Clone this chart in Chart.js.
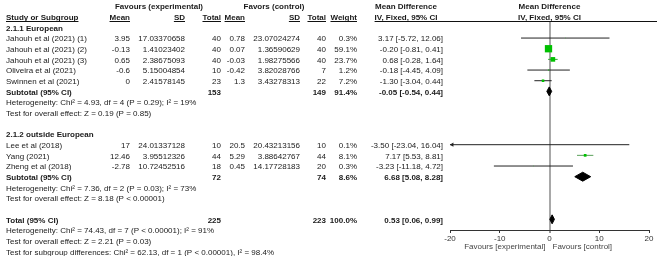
<!DOCTYPE html>
<html><head><meta charset="utf-8">
<script src="https://cdn.jsdelivr.net/npm/chart.js@4.4.1/dist/chart.umd.min.js"></script>
<style>html,body{margin:0;padding:0;background:#fff;}canvas{display:block;}</style>
</head><body>
<canvas id="c" width="657" height="256" style="width:657px;height:256px"></canvas>
<script>
// ---------- DATA ----------
const groupNames = ["2.1.1 European", "2.1.2 outside European"];
const studyNames = ["Jahouh et al (2021) (1)", "Jahouh et al (2021) (2)", "Jahouh et al (2021) (3)",
  "Oliveira et al (2021)", "Swinnen et al (2021)", "Lee et al (2018)", "Yang (2021)", "Zheng et al (2018)"];
const studyGroup = [0, 0, 0, 0, 0, 1, 1, 1];
const expMean = [3.95, -0.13, 0.65, -0.6, 0, 17, 12.46, -2.78];
const expSD = [17.03370658, 1.41023402, 2.38675093, 5.15004854, 2.41578145, 24.01337128, 3.95512326, 10.72452516];
const expTotal = [40, 40, 40, 10, 23, 10, 44, 18];
const ctrlMean = [0.78, 0.07, -0.03, -0.42, 1.3, 20.5, 5.29, 0.45];
const ctrlSD = [23.07024274, 1.36590629, 1.98275566, 3.82028766, 3.43278313, 20.43213156, 3.88642767, 14.17728183];
const ctrlTotal = [40, 40, 40, 7, 22, 10, 44, 20];
const weights = [0.3, 59.1, 23.7, 1.2, 7.2, 0.1, 8.1, 0.3];
const md = [3.17, -0.20, 0.68, -0.18, -1.30, -3.50, 7.17, -3.23];
const ciLow = [-5.72, -0.81, -0.28, -4.45, -3.04, -23.04, 5.53, -11.18];
const ciHigh = [12.06, 0.41, 1.64, 4.09, 0.44, 16.04, 8.81, 4.72];

const subExpTotal = [153, 72];
const subCtrlTotal = [149, 74];
const subWeight = [91.4, 8.6];
const subMD = [-0.05, 6.68];
const subLow = [-0.54, 5.08];
const subHigh = [0.44, 8.28];
const subHeterogeneity = ["Heterogeneity: Chi\u00B2 = 4.93, df = 4 (P = 0.29); I\u00B2 = 19%",
  "Heterogeneity: Chi\u00B2 = 7.36, df = 2 (P = 0.03); I\u00B2 = 73%"];
const subOverall = ["Test for overall effect: Z = 0.19 (P = 0.85)",
  "Test for overall effect: Z = 8.18 (P < 0.00001)"];

const totalExp = 225, totalCtrl = 223, totalWeight = 100.0;
const totalMD = 0.53, totalLow = 0.06, totalHigh = 0.99;
const totalTexts = ["Heterogeneity: Chi\u00B2 = 74.43, df = 7 (P < 0.00001); I\u00B2 = 91%",
  "Test for overall effect: Z = 2.21 (P = 0.03)",
  "Test for subgroup differences: Chi\u00B2 = 62.13, df = 1 (P < 0.00001), I\u00B2 = 98.4%"];

const xTicks = [-20, -10, 0, 10, 20];
const axisLabels = ["Favours [experimental]", "Favours [control]"];

// ---------- STYLE ----------
const X_MIN = -20, X_MAX = 20;
const FONT = '"Liberation Sans", Arial, Helvetica, sans-serif';
const FONT_SIZE = 8;
const TEXT_COLOR = '#1a1a1a';
const SQUARE_COLOR = '#00c000';
const LINE_COLOR = '#222222';
const ciColor = ['#222222', '#222222', '#33a833', '#222222', '#222222', '#222222', '#5aa05a', '#222222'];
const ZERO_COLOR = '#a8a8a8';
const SQUARE_SCALE = 0.95;
const DIAMOND_H = 0.42;
const TEXT_DY = 1;
const COL = { name: 6, expMean: 130, expSD: 185, expTotal: 221, ctrlMean: 245, ctrlSD: 300,
  ctrlTotal: 326, weight: 357, mdText: 443, mdHead: 406, expHead: 159, ctrlHead: 274, forestHead: 549.5 };

// ---------- ROW LAYOUT ----------
let r = 2;
const groupRow = [], studyRow = [], subRow = [], hetRow = [], effRow = [];
for (let g = 0; g < groupNames.length; g++) {
  groupRow[g] = r++;
  studyNames.forEach((n, i) => { if (studyGroup[i] === g) studyRow[i] = r++; });
  subRow[g] = r++; hetRow[g] = r++; effRow[g] = r++; r++;
}
const totalRow = r++;
const totalTextRows = [r++, r++, r++];

const fmt2 = v => v.toFixed(2);
const ciText = (m, lo, hi) => fmt2(m) + ' [' + fmt2(lo) + ', ' + fmt2(hi) + ']';

// ---------- DATASETS ----------
const datasets = [];
studyNames.forEach((n, i) => {
  datasets.push({
    data: [{ x: ciLow[i], y: studyRow[i] }, { x: ciHigh[i], y: studyRow[i] }],
    showLine: true, borderColor: ciColor[i], borderWidth: 1, pointRadius: 0, fill: false, order: 3
  });
});
datasets.push({
  data: md.map((m, i) => ({ x: m, y: studyRow[i] })),
  pointStyle: 'rect', pointRadius: weights.map(w => SQUARE_SCALE * Math.sqrt(w) / Math.SQRT2),
  pointBackgroundColor: SQUARE_COLOR, backgroundColor: SQUARE_COLOR, pointBorderWidth: 0, borderWidth: 0,
  showLine: false, order: 1
});
const arrowPts = [], arrowRot = [];
studyNames.forEach((n, i) => {
  if (ciLow[i] < X_MIN) { arrowPts.push({ x: X_MIN + 0.45, y: studyRow[i] }); arrowRot.push(-90); }
  if (ciHigh[i] > X_MAX) { arrowPts.push({ x: X_MAX - 0.45, y: studyRow[i] }); arrowRot.push(90); }
});
datasets.push({
  data: arrowPts, pointStyle: 'triangle', pointRotation: arrowRot, pointRadius: 2.4,
  pointBackgroundColor: LINE_COLOR, backgroundColor: LINE_COLOR, pointBorderWidth: 0, borderWidth: 0,
  showLine: false, clip: false, order: 1
});
function diamond(m, lo, hi, row) {
  return [{ x: lo, y: row }, { x: m, y: row - DIAMOND_H }, { x: hi, y: row }, { x: m, y: row + DIAMOND_H }, { x: lo, y: row }];
}
const diamonds = subMD.map((m, g) => diamond(m, subLow[g], subHigh[g], subRow[g]));
diamonds.push(diamond(totalMD, totalLow, totalHigh, totalRow));
diamonds.forEach(d => datasets.push({
  data: d, showLine: true, fill: 'shape', backgroundColor: '#000', borderColor: '#000',
  borderWidth: 1, pointRadius: 0, tension: 0, order: 1
}));

// ---------- TEXT PLUGIN ----------
const textPlugin = {
  id: 'forestText',
  afterDraw(chart) {
    const ctx = chart.ctx, ys = chart.scales.y, xs = chart.scales.x;
    const py = row => ys.getPixelForValue(row) + TEXT_DY;
    ctx.save();
    ctx.textBaseline = 'middle';
    function t(str, x, row, align, bold, color) {
      ctx.font = (bold ? 'bold ' : '') + FONT_SIZE + 'px ' + FONT;
      ctx.textAlign = align; ctx.fillStyle = color || TEXT_COLOR;
      ctx.fillText(String(str), x, py(row));
      return ctx.measureText(String(str)).width;
    }
    const lineY = Math.round(chart.chartArea.top) + 0.5;
    function ul(x1, x2) { ctx.beginPath(); ctx.moveTo(x1, lineY); ctx.lineTo(x2, lineY); ctx.strokeStyle = '#111'; ctx.lineWidth = 1; ctx.stroke(); }
    // header row 0
    t('Favours (experimental)', COL.expHead, 0, 'center', true);
    t('Favors (control)', COL.ctrlHead, 0, 'center', true);
    t('Mean Difference', COL.mdHead, 0, 'center', true);
    t('Mean Difference', COL.forestHead, 0, 'center', true);
    // header row 1 with underlines
    const heads = [['Study or Subgroup', COL.name, 'left'], ['Mean', COL.expMean, 'right'], ['SD', COL.expSD, 'right'],
      ['Total', COL.expTotal, 'right'], ['Mean', COL.ctrlMean, 'right'], ['SD', COL.ctrlSD, 'right'],
      ['Total', COL.ctrlTotal, 'right'], ['Weight', COL.weight, 'right']];
    heads.forEach(h => {
      const w = t(h[0], h[1], 1, h[2], true);
      if (h[2] === 'left') ul(h[1], h[1] + w); else ul(h[1] - w, h[1]);
    });
    const wMd = t('IV, Fixed, 95% CI', COL.mdHead, 1, 'center', true);
    t('IV, Fixed, 95% CI', COL.forestHead, 1, 'center', true);
    ul(COL.mdHead - wMd / 2, chart.width);
    // groups
    groupNames.forEach((gn, g) => {
      t(gn, COL.name, groupRow[g], 'left', true);
      t('Subtotal (95% CI)', COL.name, subRow[g], 'left', true);
      t(subExpTotal[g], COL.expTotal, subRow[g], 'right', true);
      t(subCtrlTotal[g], COL.ctrlTotal, subRow[g], 'right', true);
      t(subWeight[g].toFixed(1) + '%', COL.weight, subRow[g], 'right', true);
      t(ciText(subMD[g], subLow[g], subHigh[g]), COL.mdText, subRow[g], 'right', true);
      t(subHeterogeneity[g], COL.name, hetRow[g], 'left', false);
      t(subOverall[g], COL.name, effRow[g], 'left', false);
    });
    studyNames.forEach((n, i) => {
      const row = studyRow[i];
      t(n, COL.name, row, 'left', false);
      t(expMean[i], COL.expMean, row, 'right', false);
      t(expSD[i], COL.expSD, row, 'right', false);
      t(expTotal[i], COL.expTotal, row, 'right', false);
      t(ctrlMean[i], COL.ctrlMean, row, 'right', false);
      t(ctrlSD[i], COL.ctrlSD, row, 'right', false);
      t(ctrlTotal[i], COL.ctrlTotal, row, 'right', false);
      t(weights[i].toFixed(1) + '%', COL.weight, row, 'right', false);
      t(ciText(md[i], ciLow[i], ciHigh[i]), COL.mdText, row, 'right', false);
    });
    t('Total (95% CI)', COL.name, totalRow, 'left', true);
    t(totalExp, COL.expTotal, totalRow, 'right', true);
    t(totalCtrl, COL.ctrlTotal, totalRow, 'right', true);
    t(totalWeight.toFixed(1) + '%', COL.weight, totalRow, 'right', true);
    t(ciText(totalMD, totalLow, totalHigh), COL.mdText, totalRow, 'right', true);
    totalTexts.forEach((s, k) => t(s, COL.name, totalTextRows[k], 'left', false));
    // axis side labels
    ctx.font = FONT_SIZE + 'px ' + FONT; ctx.fillStyle = '#444'; ctx.textBaseline = 'middle';
    const x0 = xs.getPixelForValue(0), yl = chart.chartArea.bottom + 17;
    ctx.textAlign = 'right'; ctx.fillText(axisLabels[0], x0 - 4, yl);
    ctx.textAlign = 'left'; ctx.fillText(axisLabels[1], x0 + 3, yl);
    ctx.restore();
  }
};

new Chart(document.getElementById('c'), {
  type: 'scatter',
  data: { datasets },
  options: {
    responsive: false, animation: false, devicePixelRatio: 1,
    layout: { padding: { left: 450, right: 8, top: 21, bottom: 0 } },
    plugins: { legend: { display: false }, tooltip: { enabled: false } },
    scales: {
      x: {
        type: 'linear', min: X_MIN, max: X_MAX, position: 'bottom',
        afterBuildTicks: s => { s.ticks = xTicks.map(v => ({ value: v })); },
        afterFit: s => { s.height = 26; },
        ticks: { font: { family: FONT, size: FONT_SIZE }, color: '#333', padding: 1, maxRotation: 0, autoSkip: false },
        grid: {
          color: c => (c.tick && c.tick.value === 0) ? ZERO_COLOR : 'rgba(0,0,0,0)',
          lineWidth: c => (c.tick && c.tick.value === 0) ? 2 : 1,
          tickColor: '#333', tickWidth: 1, tickLength: 3, drawTicks: true
        },
        border: { display: true, color: '#333', width: 1 }
      },
      y: { type: 'linear', min: 1.4, max: 21, reverse: true, display: false }
    }
  },
  plugins: [textPlugin]
});
</script>
</body></html>
